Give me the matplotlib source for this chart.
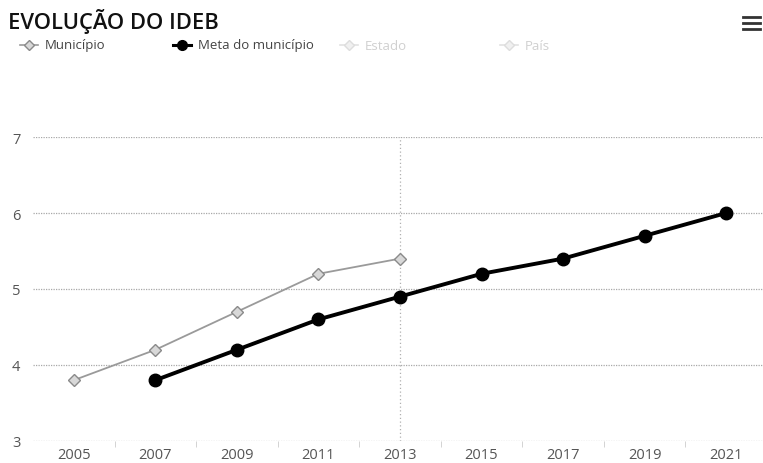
import matplotlib.pyplot as plt
from matplotlib.lines import Line2D

anos = ['2005', '2007', '2009', '2011', '2013', '2015', '2017', '2019', '2021']
municipio = [3.8, 4.2, 4.7, 5.2, 5.4]
meta_municipio = [3.8, 4.2, 4.6, 4.9, 5.2, 5.4, 5.7, 6.0]
y_ticks = [3, 4, 5, 6, 7]

plt.rcParams['font.family'] = ['Open Sans', 'DejaVu Sans']

W, H = 763, 464
fig = plt.figure(figsize=(W / 100, H / 100), dpi=100)
ax = fig.add_axes([33 / W, 22 / H, 734 / W, 304 / H])

x_all = list(range(len(anos)))
ax.plot(x_all[:len(municipio)], municipio, color='#9a9a9a', lw=1.3,
        marker='D', ms=6, mfc='#d8d8d8', mec='#8a8a8a', mew=1, zorder=3)
ax.plot(x_all[1:], meta_municipio, color='black', lw=2.8,
        marker='o', ms=9, mfc='black', mec='black', zorder=4)

# crosshair at 2013
ax.axvline(4, color='#b0b0b0', lw=0.9, ls=(0, (1, 2)), zorder=1)

ax.set_xlim(-0.5, 8.5)
ax.set_ylim(3, 7)
ax.set_yticks(y_ticks)
ax.set_xticks(x_all)
ax.set_xticklabels(anos)
ax.set_xticks([i + 0.5 for i in x_all[:-1]], minor=True)
ax.grid(axis='y', color='#a8a8a8', lw=0.9, ls=(0, (1, 1)))
ax.set_axisbelow(True)
for s in ax.spines.values():
    s.set_visible(False)
ax.tick_params(axis='both', length=0, colors='#555555', labelsize=10.5)
ax.tick_params(axis='x', which='minor', length=4, color='#cccccc', direction='out')
ax.tick_params(axis='y', pad=9)
ax.tick_params(axis='x', pad=4)

# title and menu icon
fig.text(8 / W, 1 - 21 / H, 'EVOLUÇÃO DO IDEB', fontsize=15.8,
         fontweight='semibold', color='#111111', va='center', ha='left')
for yy in [18, 24, 30]:
    fig.add_artist(Line2D([743 / W, 760 / W], [1 - yy / H, 1 - yy / H],
                          color='#333333', lw=2))

# legend (Estado and País hidden)
legend_items = [
    (20, 'Município', 'D', '#9a9a9a', '#d8d8d8', '#8a8a8a', '#444444'),
    (173, 'Meta do município', 'o', 'black', 'black', 'black', '#444444'),
    (340, 'Estado', 'D', '#e2e2e2', '#f0f0f0', '#dddddd', '#d0d0d0'),
    (500, 'País', 'D', '#e2e2e2', '#f0f0f0', '#dddddd', '#d0d0d0'),
]
ly = 1 - 46 / H
for x0, label, mk, lc, mfc, mec, tc in legend_items:
    fig.add_artist(Line2D([x0 / W, (x0 + 18) / W], [ly, ly], color=lc,
                          lw=2.2 if mk == 'o' else 1.2))
    fig.add_artist(Line2D([(x0 + 9) / W], [ly], marker=mk, ms=7 if mk == 'o' else 5,
                          mfc=mfc, mec=mec, color=lc))
    fig.text((x0 + 25) / W, ly, label, fontsize=9.5, color=tc, va='center', ha='left')

fig.savefig('out.png', dpi=100)
